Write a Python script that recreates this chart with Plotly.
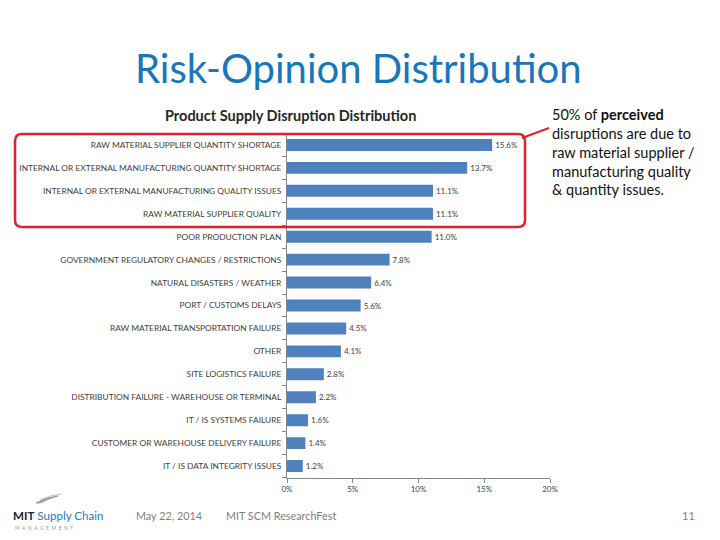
import plotly.graph_objects as go

categories = [
    "RAW MATERIAL SUPPLIER QUANTITY SHORTAGE",
    "INTERNAL OR EXTERNAL MANUFACTURING QUANTITY SHORTAGE",
    "INTERNAL OR EXTERNAL MANUFACTURING QUALITY ISSUES",
    "RAW MATERIAL SUPPLIER QUALITY",
    "POOR PRODUCTION PLAN",
    "GOVERNMENT REGULATORY CHANGES / RESTRICTIONS",
    "NATURAL DISASTERS / WEATHER",
    "PORT / CUSTOMS DELAYS",
    "RAW MATERIAL TRANSPORTATION FAILURE",
    "OTHER",
    "SITE LOGISTICS FAILURE",
    "DISTRIBUTION FAILURE - WAREHOUSE OR TERMINAL",
    "IT / IS SYSTEMS FAILURE",
    "CUSTOMER OR WAREHOUSE DELIVERY FAILURE",
    "IT / IS DATA INTEGRITY ISSUES",
]
values = [15.6, 13.7, 11.1, 11.1, 11.0, 7.8, 6.4, 5.6, 4.5, 4.1, 2.8, 2.2, 1.6, 1.4, 1.2]
x_ticks = [0, 5, 10, 15, 20]
x_tick_labels = ["0%", "5%", "10%", "15%", "20%"]

W, H = 720, 540
OFF = 8  # page body margin offset
def px(x):
    return (x - OFF) / W
def py(y):
    return 1 - (y - OFF) / H

fig = go.Figure()
fig.add_trace(go.Bar(
    x=values,
    y=categories,
    orientation="h",
    marker=dict(color="#4F81BD", line=dict(width=0)),
    text=[f"{v:.1f}%" for v in values],
    textposition="outside",
    textfont=dict(family="Lato", size=8, color="#404040"),
    cliponaxis=False,
    width=0.52,
))

fig.update_layout(
    width=W, height=H,
    margin=dict(l=0, r=0, t=0, b=0),
    paper_bgcolor="white",
    plot_bgcolor="white",
    showlegend=False,
    xaxis=dict(
        domain=[px(287), px(550)],
        range=[0, 20],
        tickvals=x_ticks,
        ticktext=x_tick_labels,
        showgrid=False,
        zeroline=False,
        showline=True,
        linecolor="#868686",
        linewidth=1,
        ticks="outside",
        ticklen=4,
        tickcolor="#868686",
        tickfont=dict(family="Lato", size=8, color="#404040"),
        automargin=False,
        fixedrange=True,
    ),
    yaxis=dict(
        domain=[py(477.5), py(133.5)],
        categoryorder="array",
        categoryarray=categories[::-1],
        autorange=False,
        range=[-0.5, len(categories) - 0.5],
        showgrid=False,
        showline=True,
        linecolor="#868686",
        linewidth=1,
        ticks="outside",
        ticklen=4,
        tickcolor="#868686",
        tickson="boundaries",
        tickfont=dict(family="Lato", size=8.4, color="#404040"),
        ticklabelstandoff=3,
        automargin=False,
        fixedrange=True,
    ),
)

annotations = [
    dict(text="Risk-Opinion Distribution", x=px(358), y=py(68), xref="paper", yref="paper",
         showarrow=False, xanchor="center", yanchor="middle",
         font=dict(family="Lato", size=40, color="#1A75BB")),
    dict(text="<b>Product Supply Disruption Distribution</b>", x=px(290), y=py(115),
         xref="paper", yref="paper", showarrow=False, xanchor="center", yanchor="middle",
         font=dict(family="Lato", size=14.5, color="#262626")),
    dict(text="50% of <b>perceived</b><br>disruptions are due to<br>raw material supplier /<br>manufacturing quality<br>&amp; quantity issues.",
         x=px(550), y=py(104), xref="paper", yref="paper", showarrow=False,
         xanchor="left", yanchor="top", align="left",
         font=dict(family="Lato", size=14.5, color="#111111")),
    dict(text="<b>MIT</b> <span style='color:#2A7AB8'>Supply Chain</span>", x=px(11), y=py(515),
         xref="paper", yref="paper", showarrow=False, xanchor="left", yanchor="middle",
         font=dict(family="Lato", size=11.6, color="#222222")),
    dict(text="M  A  N  A  G  E  M  E  N  T", x=px(13), y=py(528), xref="paper", yref="paper",
         showarrow=False, xanchor="left", yanchor="middle",
         font=dict(family="Lato", size=5, color="#9A9A9A")),
    dict(text="May 22, 2014", x=px(134), y=py(515), xref="paper", yref="paper",
         showarrow=False, xanchor="left", yanchor="middle",
         font=dict(family="Lato", size=10.8, color="#7F7F7F")),
    dict(text="MIT SCM ResearchFest", x=px(224), y=py(515), xref="paper", yref="paper",
         showarrow=False, xanchor="left", yanchor="middle",
         font=dict(family="Lato", size=10.8, color="#7F7F7F")),
    dict(text="11", x=px(697), y=py(515), xref="paper", yref="paper",
         showarrow=False, xanchor="right", yanchor="middle",
         font=dict(family="Lato", size=11, color="#7F7F7F")),
]
fig.update_layout(annotations=annotations)

# rounded red highlight rectangle
x0, x1, y0, y1, r = 15, 525, 134, 227, 7
path = (f"M {px(x0+r)},{py(y0)} L {px(x1-r)},{py(y0)} Q {px(x1)},{py(y0)} {px(x1)},{py(y0+r)} "
        f"L {px(x1)},{py(y1-r)} Q {px(x1)},{py(y1)} {px(x1-r)},{py(y1)} "
        f"L {px(x0+r)},{py(y1)} Q {px(x0)},{py(y1)} {px(x0)},{py(y1-r)} "
        f"L {px(x0)},{py(y0+r)} Q {px(x0)},{py(y0)} {px(x0+r)},{py(y0)} Z")
shapes = [
    dict(type="path", path=path, xref="paper", yref="paper",
         line=dict(color="#E0202A", width=2.5)),
    dict(type="line", x0=px(522), y0=py(138), x1=px(549), y1=py(128), xref="paper", yref="paper",
         line=dict(color="#E0202A", width=2)),
    # logo swoosh
    dict(type="path", path=f"M {px(36)},{py(503)} Q {px(46)},{py(497)} {px(58)},{py(496)} Q {px(48)},{py(499)} {px(40)},{py(503)} Z",
         xref="paper", yref="paper", line=dict(color="#A0A0A0", width=1), fillcolor="#A0A0A0"),
    dict(type="path", path=f"M {px(40)},{py(500)} Q {px(50)},{py(495)} {px(62)},{py(494)}",
         xref="paper", yref="paper", line=dict(color="#C0C0C0", width=1)),
]
fig.update_layout(shapes=shapes)

fig.write_html("out.html")
